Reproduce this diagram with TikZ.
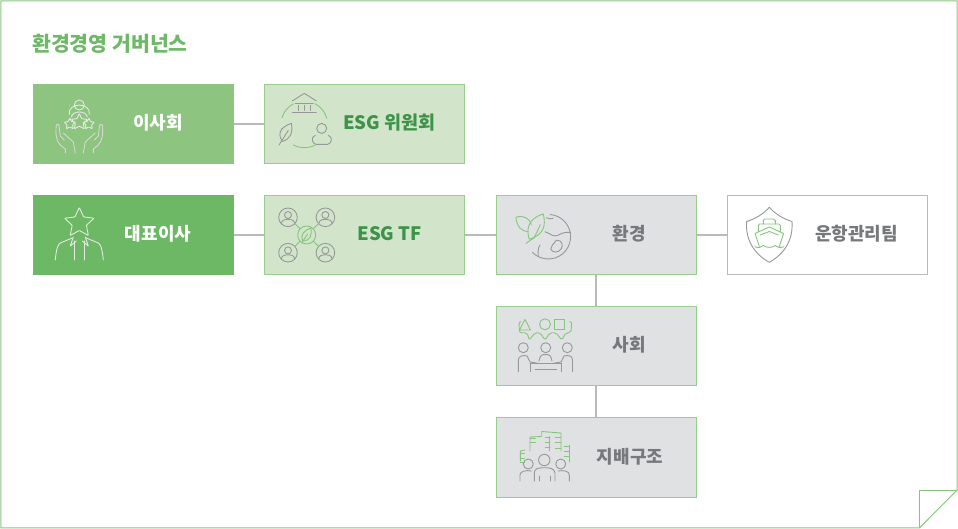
\documentclass[tikz,border=0pt]{standalone}
\usepackage{fontspec}
\setmainfont{Noto Sans CJK KR}
\usepackage{xcolor}
\usetikzlibrary{positioning}
\definecolor{framegreen}{HTML}{86C67C}
\definecolor{titlegreen}{HTML}{6DB966}
\definecolor{midgreen}{HTML}{8CC480}
\definecolor{deepgreen}{HTML}{6CB865}
\definecolor{palegreen}{HTML}{D2E5CB}
\definecolor{edgegreen}{HTML}{97CE8D}
\definecolor{textgreen}{HTML}{3D9348}
\definecolor{palegrey}{HTML}{E0E1E3}
\definecolor{textgrey}{HTML}{77787B}
\definecolor{linegrey}{HTML}{B9BABC}
\definecolor{icongrey}{HTML}{97989A}
\definecolor{iconlight}{HTML}{E4E9E1}
\tikzset{
box/.style = { rectangle, minimum width = 200pt, minimum height = 79.5pt, inner sep = 0pt, line width = 1pt },
board box/.style = { box, draw = midgreen, fill = midgreen },
ceo box/.style = { box, draw = deepgreen, fill = deepgreen },
esg box/.style = { box, draw = edgegreen, fill = palegreen },
grey box/.style = { box, draw = edgegreen, fill = palegrey },
white box/.style = { box, draw = linegrey, fill = white },
white label/.style = { text = white, font = \fontsize{18}{20}\selectfont\bfseries },
esg label/.style = { text = textgreen, font = \fontsize{18.5}{20}\selectfont\bfseries },
grey label/.style = { text = textgrey, font = \fontsize{18}{20}\selectfont\bfseries },
link/.style = { draw = linegrey, line width = 1.2pt },
ico/.style = { line width = 0.9pt, line cap = round, line join = round, draw = icongrey },
gico/.style = { ico, draw = framegreen },
}
\tikzset{
pics/star mark/.style = {
        code = {
        \draw [rounded corners = 0.7pt] (-90:#1) \foreach \a in {-54, -18, 18, 54, 90, 126, 162, 198, 234} {
          -- ({\a}:{#1 * (mod(\a + 90, 72) == 0 ? 1 : 0.48)}) } -- cycle;
        }
    },
pics/person ring/.style = {
        code = {
        \draw (0, 0) circle (9.3);
        \draw (0, -2.3) circle (3.5);
        \draw (-6.8, 6.3) .. controls (-6, 2.5) and (-3, 2) .. (0, 2) .. controls (3, 2) and (6, 2.5) .. (6.8, 6.3);
        }
    },
pics/leaf mark/.style = {
        code = {
        \draw (-4, 6) .. controls (-7, 0) and (-2, -5) .. (4, -7) .. controls (6, 0) and (3, 6) .. (-4, 6);
        \draw (-5, 8) -- (1, -1);
        }
    },
% the eight box icons, origin in the middle of each icon
pics/board icon/.style = {
        code = {
        \begin{scope}[ico, draw = iconlight]
          \draw (-9, -5) arc (135:-315:0) ;
          \draw (-7.5, -9) arc (150:-30:0);
          \draw (-10, -9.5) .. controls (-12, -22) and (12, -22) .. (10, -9.5);
          \draw (-9.8, -19) circle (0);
          \draw (0, -19) circle (5);
          \draw (-8, -7) .. controls (-7, -11) and (-3, -12) .. (0, -12) .. controls (3, -12) and (7, -11) .. (8, -7);
          \pic at (0, -2) {star mark = 8.5};
          \pic at (-9.5, 0) {star mark = 6};
          \pic at (9.5, 0) {star mark = 6};
        \end{scope}
        \begin{scope}[ico, draw = iconlight!85!gray]
          \draw (-14, 29) -- (-14, 25) -- (-19, 21) .. controls (-23, 17) and (-24, 10) .. (-23, 1) .. controls (-21, -1) and (-20, 1) .. (-20, 4) -- (-19, 12) -- (-15, 16);
          \draw (-16, 9) -- (-6, 18) -- (-4, 29);
          \draw (14, 29) -- (14, 25) -- (19, 21) .. controls (23, 17) and (24, 10) .. (23, 1) .. controls (21, -1) and (20, 1) .. (20, 4) -- (19, 12) -- (15, 16);
          \draw (16, 9) -- (6, 18) -- (4, 29);
        \end{scope}
        }
    },
pics/committee icon/.style = {
        code = {
        \draw [gico] (170:23.3) arc (170:-125:0);
        \draw [gico] (-163:23.3) arc (-163:-118:23.3);
        \draw [gico] (-62:23.3) arc (-62:-15:23.3);
        \draw [gico] (62:23.3) arc (62:118:23.3);
        \begin{scope}[ico]
          \draw (-12, -23.5) -- (0, -31) -- (12, -23.5);
          \draw (-9, -20.5) -- (9, -20.5);
          \draw (-12, -12) -- (12, -12);
          \draw (-6, -19) -- (-6, -14) (0, -19) -- (0, -14) (6, -19) -- (6, -14);
          \draw (-22, 17) .. controls (-28, 8) and (-22, 2) .. (-13, -1) .. controls (-11, 8) and (-14, 15) .. (-22, 17);
          \draw (-25.3, 20.6) -- (-16, 6);
          \draw (17.4, 4) circle (5);
          \draw (11, 11) .. controls (5, 14) and (9, 20) .. (12, 20) -- (23, 20) .. controls (26, 20) and (30, 14) .. (24, 11);
        \end{scope}
        }
    },
pics/ceo icon/.style = {
        code = {
        \begin{scope}[ico, draw = iconlight]
          \pic at (0, -12) {star mark = 15.5};
          \draw (-24, 25) .. controls (-23, 13) and (-21, 9) .. (-19, 8) -- (-7, 3);
          \draw (24, 25) .. controls (23, 13) and (21, 9) .. (19, 8) -- (7, 3);
          \draw (-4.7, 25) -- (-4.7, 6) (4.7, 25) -- (4.7, 6);
          \draw (-6, 2) -- (-9, 11) -- (-3, 6) (6, 2) -- (9, 11) -- (3, 6);
        \end{scope}
        }
    },
pics/tf icon/.style = {
        code = {
        \begin{scope}[ico]
          \pic at (-18.7, -17.7) {person ring};
          \pic at (18.7, -17.7) {person ring};
          \pic at (-18.7, 17.7) {person ring};
          \pic at (18.7, 17.7) {person ring};
        \end{scope}
        \begin{scope}[gico]
          \draw (0, 0) circle (9);
          \pic {leaf mark};
          \draw (-6.4, -6.1) -- (-12, -11.5) (6.4, -6.1) -- (12, -11.5);
          \draw (-6.4, 6.1) -- (-12, 11.5) (6.4, 6.1) -- (12, 11.5);
        \end{scope}
        }
    },
pics/env icon/.style = {
        code = {
        \begin{scope}[ico]
          \draw (-85:22.3) arc (-85:135:22.3);
          \draw (-3.3, -5) .. controls (2, -3) and (6, 1) .. (10, -1.5) .. controls (14, -4) and (18, -5) .. (22.3, -4);
          \draw (8, 3.5) .. controls (14, 3) and (15, 9) .. (13, 12) .. controls (10, 17) and (3, 16) .. (2.5, 12) .. controls (2.5, 9) and (5, 8) .. (8, 3.5);
          \draw (-8.3, 8.3) .. controls (-11, 12) and (-10, 16) .. (-10, 20);
          \draw (-2, -19) .. controls (0, -18) and (3, -17) .. (5, -18.5);
        \end{scope}
        \begin{scope}[gico]
          \draw (-19, 2.6) .. controls (-24, -12) and (-15, -20) .. (-5, -22.7) .. controls (-2, -10) and (-5, -2) .. (-19, 2.6);
          \draw (-22.3, 6.6) -- (-14, 1) -- (-8, -12);
          \draw (-17, -12) .. controls (-18, -18) and (-25, -22) .. (-32.3, -19.4) .. controls (-32, -10) and (-26, -5) .. (-20, -5);
        \end{scope}
        }
    },
pics/ship icon/.style = {
        code = {
        \draw [ico] (0, -27.7) .. controls (6, -21) and (14, -16) .. (22.7, -13.5) .. controls (24, 5) and (15, 19) .. (0, 27.3) .. controls (-15, 19) and (-24, 5) .. (-22.7, -13.5) .. controls (-14, -16) and (-6, -21) .. (0, -27.7);
        \begin{scope}[gico]
          \draw [rounded corners = 1.5pt] (-6, -11) -- (-6, -16) -- (6, -16) -- (6, -11);
          \draw [rounded corners = 1.5pt] (-11, -3.5) -- (-11, -11) -- (11, -11) -- (11, -3.5);
          \draw (-10, 11.5) -- (-14.3, -1.5) -- (0, -8) -- (14.3, -1.5) -- (10, 11.5);
          \draw (-9, 0) -- (0, -3.5) -- (9, 0);
          \draw (-14.5, 11.7) .. controls (-11, 13) and (-8, 13) .. (-6, 10.5) .. controls (-3, 13) and (3, 13) .. (6, 10.5) .. controls (8, 13) and (11, 13) .. (14.5, 11.7);
        \end{scope}
        }
    },
pics/social icon/.style = {
        code = {
        \begin{scope}[gico]
          \draw (-20, -26.7) -- (-14.5, -16) -- (-25.5, -16) -- cycle;
          \draw (0, -21.7) circle (5.5);
          \draw (9, -26.7) rectangle (19, -16.7);
          \draw [rounded corners = 2pt] (-25, -24.3) -- (-26, -24.3) -- (-25.5, -13.3) -- (-18, -13.3) -- (-15.7, -6) -- (-10, -13.3) -- (-5, -13.3) -- (0, -6) -- (5, -13.3) -- (11, -13.3) -- (16.7, -6) -- (21, -13.3) -- (26, -13.3) -- (26.7, -24.3) -- (25.5, -24.3);
        \end{scope}
        \begin{scope}[ico]
          \draw (-21.7, 1.7) circle (5) (0.7, 1.7) circle (5) (22.3, 1.7) circle (5);
          \draw (-26.7, 25.7) -- (-26.7, 14) .. controls (-26.7, 9.5) and (-21, 9) .. (-18, 10) -- (-15, 16) -- (-7, 17.3);
          \draw (27.5, 25.7) -- (27.5, 14) .. controls (27.5, 9.5) and (23, 9) .. (19, 10) -- (16, 16) -- (8, 17.3);
          \draw (-6, 15) .. controls (-5, 9) and (-3, 8.5) .. (0.7, 8.5) .. controls (4, 8.5) and (6, 9) .. (7, 15);
          \draw (-15, 17.3) -- (16.7, 17.3);
          \draw (-15, 17.3) -- (-15, 25.7) (16.7, 17.3) -- (16.7, 25.7);
          \draw (-10, 23.3) -- (11.7, 23.3);
        \end{scope}
        }
    },
pics/gov icon/.style = {
        code = {
        \begin{scope}[gico]
          \draw (-2.6, -23) -- (-2.6, -27.5) -- (16.7, -26) -- (16.7, -8);
          \draw (-14.3, -8) -- (-14.3, -22) -- (-3, -22.5);
          \draw (-14.3, -21) -- (-9, -21) (-14.3, -17) -- (-9, -17);
          \draw (1, -22) -- (5.5, -22) (1, -17) -- (5.5, -17) (1, -12) -- (5.5, -12);
          \draw (5.5, -22.5) -- (5.5, -8);
          \draw (11, -22) -- (16.7, -22) (11, -17) -- (16.7, -17) (11, -11) -- (16.7, -11);
          \draw (20, -12.5) -- (25, -12.5) (20, -8) -- (25, -8) (20, -3) -- (25, -3);
          \draw (25, -14) -- (25, 3);
          \draw (-24, 2) -- (-24, -8) -- (-19.5, -9);
          \draw (-24, -6) -- (-20, -6) (-24, -1) -- (-20, -1) (-24, 3) -- (-20, 3);
        \end{scope}
        \begin{scope}[ico]
          \draw (0, 1) circle (5.7);
          \draw (-16, 5) circle (5) (16.4, 5) circle (5);
          \draw (-10, 22) -- (-10, 14) .. controls (-10, 9.5) and (-6, 8.7) .. (0, 8.7) .. controls (6, 8.7) and (10, 9.5) .. (10.7, 14) -- (10.7, 22);
          \draw (-5, 17) -- (-5, 22) (6, 17) -- (6, 22);
          \draw (-24.3, 22) -- (-24.3, 16) .. controls (-24.3, 12) and (-18, 11) .. (-13, 12);
          \draw (25, 22) -- (25, 16) .. controls (25, 12) and (19, 11) .. (14, 12);
        \end{scope}
        }
    },
}
\begin{document}
\begin{tikzpicture}[x=1pt, y=-1pt]
  \useasboundingbox (0,0) rectangle (958,529);
  % sheet with folded corner
  \draw [framegreen, line width=1pt] (0.8,0.8) -- (957.2,0.8) -- (957.2,490) -- (919.5,527.8) -- (0.8,527.8) -- cycle;
  \draw [framegreen, line width=1pt] (919.5,527.8) -- (919.5,490) -- (957.2,490);
  \node [anchor=west, text=titlegreen, font=\fontsize{20.5}{22}\selectfont\bfseries, inner sep=0pt] (title) at (32,44) {환경경영 거버넌스};

  \node [board box] (board) at (133,124) {};
  \node [esg box] (committee) at (364.5,124) {};
  \node [ceo box] (ceo) at (133,235) {};
  \node [esg box] (tf) at (364.5,235) {};
  \node [grey box] (env) at (596,235) {};
  \node [white box] (ship) at (827,235) {};
  \node [grey box] (social) at (596,346) {};
  \node [grey box] (gov) at (596,457.5) {};

  \node [white label] (boardtext) at (158,123) {이사회};
  \node [esg label] (committeetext) at (389.5,123) {ESG 위원회};
  \node [white label] (ceotext) at (158,234) {대표이사};
  \node [esg label] (tftext) at (389.5,234) {ESG TF};
  \node [grey label] (envtext) at (629.5,234) {환경};
  \node [grey label] (shiptext) at (856.5,234) {운항관리팀};
  \node [grey label] (socialtext) at (629.5,345) {사회};
  \node [grey label] (govtext) at (630,456.5) {지배구조};

  \draw [link] (board) -- (committee);
  \draw [link] (ceo) -- (tf);
  \draw [link] (tf) -- (env);
  \draw [link] (env) -- (ship);
  \draw [link] (env) -- (social);
  \draw [link] (social) -- (gov);

  \pic at (79.3,124) {board icon};
  \pic at (304.3,124.4) {committee icon};
  \pic at (79.3,235) {ceo icon};
  \pic at (306.7,235) {tf icon};
  \pic at (548.3,236.7) {env icon};
  \pic at (769.3,235) {ship icon};
  \pic at (545,346) {social icon};
  \pic at (544.3,459) {gov icon};
\end{tikzpicture}
\end{document}
